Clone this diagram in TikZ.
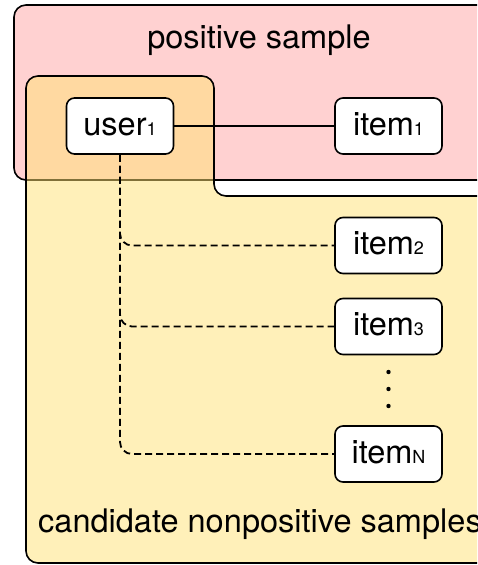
\documentclass[tikz,border=0pt]{standalone}
\usepackage{fontspec}
\setmainfont{TeX Gyre Heros}
\definecolor{pospink}{RGB}{255,209,209}
\definecolor{candyellow}{RGB}{255,225,115}
\newcommand\idx[1]{{\fontsize{18}{18}\selectfont #1}}
\begin{document}
\begin{tikzpicture}[x=1pt,y=-1pt,
  region/.style={draw=black, line width=1.6pt, rounded corners=12pt},
  entity/.style={draw=black, line width=1.6pt, rounded corners=8pt, fill=white,
    minimum width=107pt, minimum height=56pt, inner sep=0pt,
    text height=18pt, text depth=0pt, font=\fontsize{32.5}{38}\selectfont},
  caption/.style={inner sep=0pt, font=\fontsize{32.5}{38}\selectfont},
  link/.style={draw=black, line width=1.6pt},
  nolink/.style={link, line width=1.8pt, dash pattern=on 7pt off 4pt, rounded corners=12pt},
  dot/.style={fill=black}]
  \clip (0,0) rectangle (477,565);

  % positive sample region
  \draw[region, fill=pospink] (14,5) rectangle (540,180);
  \node[caption, anchor=base] (postitle) at (259,48) {positive sample};

  % candidate region, translucent over the positive one
  \draw[region, fill=candyellow, fill opacity=0.5]
    (26,563) -- (26,76) -- (214,76) -- (214,196) -- (540,196) -- (540,563) -- cycle;
  \node[caption, anchor=base west] (candtitle) at (38,532) {candidate nonpositive samples};

  % user and items
  \node[entity] (user) at (120,126) {user\idx{1}};
  \node[entity] (item1) at (388.5,126) {item\idx{1}};
  \node[entity] (item2) at (388.5,245.5) {item\idx{2}};
  \node[entity] (item3) at (388.5,326.5) {item\idx{3}};
  \node[entity] (itemN) at (388.5,454) {item\idx{N}};

  % connectors
  \draw[link] (user.east) -- (item1.west);
  \draw[nolink] (user.south) |- (item2.west);
  \draw[nolink] (user.south) |- (item3.west);
  \draw[nolink] (user.south) |- (itemN.west);

  % vertical ellipsis
  \fill[dot] (388.5,372) circle (2.2pt);
  \fill[dot] (388.5,389) circle (2.2pt);
  \fill[dot] (388.5,406) circle (2.2pt);
\end{tikzpicture}
\end{document}
